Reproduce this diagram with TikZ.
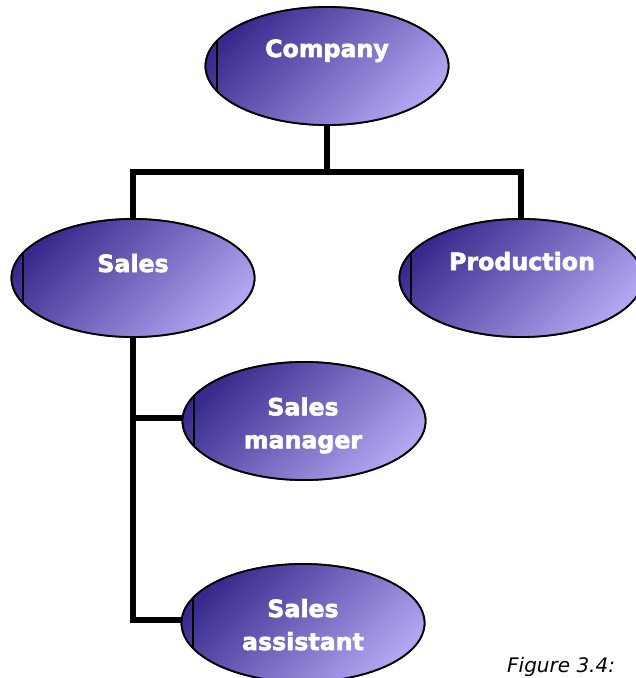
\documentclass[tikz,border=0pt]{standalone}
\usepackage{fontspec}
\setmainfont{DejaVu Sans}
\newfontfamily\heavyfont{DejaVu Sans}[BoldFeatures={FakeBold=2.5}]
\usetikzlibrary{shapes.geometric,calc}
\definecolor{bdark}{RGB}{56,42,140}
\definecolor{blight}{RGB}{178,166,242}
\begin{document}
\begin{tikzpicture}[x=1bp,y=-1bp,
  orgbox/.style={ellipse, draw=black, line width=1.8bp, inner sep=0pt, outer sep=0pt,
    minimum width=243bp, minimum height=118bp,
    left color=bdark, right color=blight, shading angle=45},
  lbl/.style={text=white, font=\fontsize{23.7bp}{33bp}\selectfont\heavyfont\bfseries, align=center, inner sep=0pt},
  conn/.style={line width=5.5bp},
  chord/.style={line width=1.5bp},
  captxt/.style={font=\fontsize{20bp}{24bp}\selectfont\itshape, inner sep=0pt}]
\useasboundingbox (0,0) rectangle (636,678);
\fill[white] (0,0) rectangle (636,678);

\coordinate (j1) at (327,172);
\node[orgbox] (comp) at (327,66) {};
\node[orgbox] (sales) at (133,278) {};
\node[orgbox] (prod) at (521,278) {};
\node[orgbox] (mgr) at (304,421) {};
\node[orgbox] (asst) at (303,623) {};

% connectors
\draw[conn] (comp.south) -- (j1);
\draw[conn] (sales.north) |- (j1) -| (prod.north);
\draw[conn] (sales.south) |- ([yshift=3bp]asst.west);
\draw[conn] (sales.south) |- ([yshift=3bp]mgr.west);

% redraw ellipses over connector ends, with the inner left stroke
\foreach \n/\p in {comp/{327,66},sales/{133,278},prod/{521,278},mgr/{304,421},asst/{303,623}}{
  \node[orgbox] at (\p) {};
  \draw[chord] ($(\p)+(-110,-25)$) -- ++(0,50);
}

\node[lbl, anchor=base] (compT) at (327,57) {Company};
\node[lbl, anchor=base] (salesT) at (133,272) {Sales};
\node[lbl, anchor=base] (prodT) at (522,270) {Production};
\node[lbl] (mgrT) at (303,425.4) {Sales\\manager};
\node[lbl] (asstT) at (303,624.7) {Sales\\assistant};

\node[captxt, anchor=base west] (cap) at (507,672) {Figure 3.4:};
\end{tikzpicture}
\end{document}
